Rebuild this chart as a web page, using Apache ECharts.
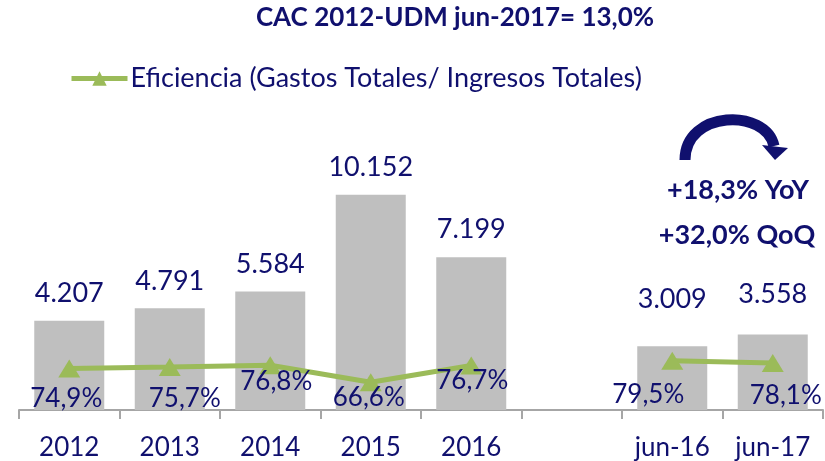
<!DOCTYPE html>
<html>
<head>
<meta charset="utf-8">
<script src="https://cdn.jsdelivr.net/npm/echarts@6/dist/echarts.min.js"></script>
<style>
    html, body { margin: 0; padding: 0; background: #fff; }
    #cacChart { width: 825px; height: 461px; }
</style>
</head>
<body>
<div id="cacChart"></div>
<script>
// 数据
const categories = ['2012', '2013', '2014', '2015', '2016', '', 'jun-16', 'jun-17'];
const cacValues = [4207, 4791, 5584, 10152, 7199, '-', 3009, 3558];
const efficiencyValues = [74.9, 75.7, 76.8, 66.6, 76.7, '-', 79.5, 78.1];

const titleText = 'CAC 2012-UDM jun-2017= 13,0%';
const lineName = 'Eficiencia (Gastos Totales/ Ingresos Totales)';
const noteLines = ['+18,3% YoY', '+32,0% QoQ'];

// 标签微调 (样式)
const barLabelLift = [0, 0, 0, 0, 0, 0, -19, -13];
const lineLabelShift = [[-3, 30], [15, 31], [6, 16], [-2, 15], [1, 15], [0, 0], [-24, 34], [13, 32]];

const navy = '#10106e';
const font = 'Lato';

document.addEventListener('DOMContentLoaded', function() {
    initCacChart();
});

function fmtThousands(v) {
    return String(v).replace(/\B(?=(\d{3})+(?!\d))/g, '.');
}

function initCacChart() {
    const chartDom = document.getElementById('cacChart');
    const myChart = echarts.init(chartDom);

    const barData = cacValues.map(function(v, i) {
        return { value: v, label: { offset: [0, barLabelLift[i]] } };
    });
    const lineData = efficiencyValues.map(function(v, i) {
        return { value: v, label: { offset: lineLabelShift[i] } };
    });

    const option = {
        animation: false,
        title: {
            text: titleText,
            left: 450,
            top: 0,
            textAlign: 'center',
            textStyle: { color: navy, fontFamily: font, fontSize: 26, fontWeight: 'bold' }
        },
        legend: {
            data: [lineName],
            left: 64,
            top: 60,
            itemWidth: 56,
            itemHeight: 18,
            itemGap: 2,
            lineStyle: { width: 5 },
            textStyle: { color: navy, fontFamily: font, fontSize: 27, padding: [0, 0, 0, -2] }
        },
        grid: {
            left: 19,
            right: 2,
            top: 113,
            bottom: 50
        },
        xAxis: {
            type: 'category',
            data: categories,
            axisLine: { lineStyle: { color: '#a6a6a6', width: 2 } },
            axisTick: { show: true, length: 9, lineStyle: { color: '#a6a6a6', width: 2 } },
            axisLabel: { color: navy, fontFamily: font, fontSize: 26, margin: 25 }
        },
        yAxis: [
            { type: 'value', min: 0, max: 14000, show: false, splitLine: { show: false } },
            { type: 'value', min: 50, max: 228, show: false, splitLine: { show: false } }
        ],
        series: [
            {
                name: 'CAC',
                type: 'bar',
                barWidth: 70,
                data: barData,
                itemStyle: { color: '#bfbfbf' },
                label: {
                    show: true,
                    position: 'top',
                    distance: 14,
                    color: navy,
                    fontFamily: font,
                    fontSize: 27,
                    formatter: function(p) { return fmtThousands(p.value); }
                }
            },
            {
                name: lineName,
                type: 'line',
                yAxisIndex: 1,
                data: lineData,
                connectNulls: false,
                symbol: 'triangle',
                symbolSize: [22, 18],
                itemStyle: { color: '#9bbb59' },
                lineStyle: { color: '#9bbb59', width: 5 },
                label: {
                    show: true,
                    position: 'inside',
                    color: navy,
                    fontFamily: font,
                    fontSize: 26,
                    formatter: function(p) { return String(p.value).replace('.', ',') + '%'; }
                },
                z: 3
            }
        ],
        graphic: [
            // 弧形箭头
            {
                type: 'bezierCurve',
                shape: { x1: 685, y1: 160, cpx1: 685, cpy1: 110, cpx2: 766, cpy2: 108, x2: 774, y2: 146 },
                style: { stroke: navy, lineWidth: 11, fill: null }
            },
            {
                type: 'polygon',
                shape: { points: [[762, 145], [788, 148], [775, 160]] },
                style: { fill: navy }
            },
            {
                type: 'text',
                x: 738,
                y: 190,
                style: { text: noteLines[0], fill: navy, font: 'bold 27px Lato', textAlign: 'center', textVerticalAlign: 'middle' }
            },
            {
                type: 'text',
                x: 737,
                y: 235,
                style: { text: noteLines[1], fill: navy, font: 'bold 27px Lato', textAlign: 'center', textVerticalAlign: 'middle' }
            }
        ]
    };

    myChart.setOption(option);

    // 响应式调整
    window.addEventListener('resize', function() {
        myChart.resize();
    });
}
</script>
</body>
</html>
